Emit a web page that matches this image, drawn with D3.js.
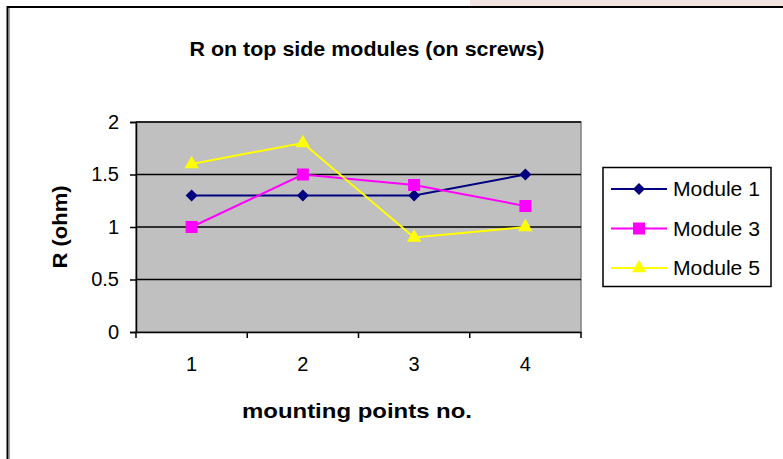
<!DOCTYPE html>
<html><head><meta charset="utf-8">
<script src="https://cdn.jsdelivr.net/npm/d3@7"></script>
<style>body{margin:0;background:#fff}svg{display:block}text{font-family:"Liberation Sans",Arial,sans-serif}</style>
</head><body>
<svg id="c" width="783" height="459"></svg>
<script>
const categories = ["1","2","3","4"];
const module1 = [1.3, 1.3, 1.3, 1.5];
const module3 = [1.0, 1.5, 1.4, 1.2];
const module5 = [1.6, 1.8, 0.9, 1.0];
const seriesNames = ["Module 1","Module 3","Module 5"];
const yTicks = [0, 0.5, 1, 1.5, 2];
const titleText = "R on top side modules (on screws)";
const xTitle = "mounting points no.";
const yTitle = "R (ohm)";

const diamond = {draw(ctx, size){const r=Math.sqrt(size/2);ctx.moveTo(0,-r);ctx.lineTo(r,0);ctx.lineTo(0,r);ctx.lineTo(-r,0);ctx.closePath();}};
const series = [
  {name: seriesNames[0], values: module1, color: "#000080", sym: diamond, size: 72},
  {name: seriesNames[1], values: module3, color: "#FF00FF", sym: d3.symbolSquare, size: 144},
  {name: seriesNames[2], values: module5, color: "#FFFF00", sym: d3.symbolTriangle, size: 90}
];

const svg = d3.select("#c");
// faint cropped watermark strip at top
svg.append("rect").attr("x",470).attr("y",0).attr("width",313).attr("height",6).attr("fill","#f3e4e4");
// outer frame
svg.append("rect").attr("x",7.5).attr("y",7).attr("width",800).attr("height",500)
  .attr("fill","#fff").attr("stroke","#000").attr("stroke-width",2);
svg.append("line").attr("x1",9.5).attr("x2",9.5).attr("y1",8).attr("y2",459).attr("stroke","#a0a0a0").attr("stroke-width",1);

const L = 136, R = 581, T = 122, B = 332;
const x = d3.scaleBand().domain(categories).range([L, R]);
const y = d3.scaleLinear().domain([0, 2]).range([B, T]);

svg.append("rect").attr("x",L).attr("y",T).attr("width",R-L).attr("height",B-T)
  .attr("fill","#C0C0C0").attr("stroke","#808080").attr("stroke-width",1.5);

// gridlines
svg.append("g").selectAll("line").data(yTicks.filter(d=>d>0)).join("line")
  .attr("x1",L).attr("x2",R).attr("y1",d=>y(d)).attr("y2",d=>y(d))
  .attr("stroke","#000").attr("stroke-width",1.5);

// y axis
const ya = svg.append("g").attr("transform",`translate(${L},0)`)
  .call(d3.axisLeft(y).tickValues(yTicks).tickSize(6).tickPadding(11).tickFormat(d=>String(d)));
ya.select(".domain").attr("stroke","#000").attr("stroke-width",1.5);
ya.selectAll(".tick line").attr("stroke","#000").attr("stroke-width",1.5);
ya.selectAll(".tick text").attr("font-size",20).attr("fill","#000").attr("font-family","Liberation Sans, Arial, sans-serif");

// x axis
const xa = svg.append("g").attr("transform",`translate(0,${B})`)
  .call(d3.axisBottom(x).tickSize(0).tickPadding(25));
xa.select(".domain").attr("stroke","#000").attr("stroke-width",1.5);
xa.selectAll(".tick text").attr("font-size",20).attr("fill","#000").attr("font-family","Liberation Sans, Arial, sans-serif");
// category boundary ticks
const bounds = categories.map(c=>x(c)).concat([R]);
svg.append("g").selectAll("line").data(bounds).join("line")
  .attr("x1",d=>d).attr("x2",d=>d).attr("y1",B).attr("y2",B+6)
  .attr("stroke","#000").attr("stroke-width",1.5);

// lines & markers
const cx = c => x(c) + x.bandwidth()/2;
series.forEach(s=>{
  const pts = s.values.map((v,i)=>[cx(categories[i]), y(v)]);
  svg.append("path").attr("d", d3.line()(pts)).attr("fill","none")
    .attr("stroke", s.color).attr("stroke-width",2);
  svg.append("g").selectAll("path").data(pts).join("path")
    .attr("transform",d=>`translate(${d[0]},${d[1]})`)
    .attr("d", d3.symbol().type(s.sym).size(s.size)).attr("fill", s.color);
});

// titles
svg.append("text").attr("x",367).attr("y",56).attr("text-anchor","middle")
  .attr("font-size",21).attr("font-weight","bold")
  .attr("textLength",355).attr("lengthAdjust","spacingAndGlyphs").text(titleText);
svg.append("text").attr("x",357).attr("y",418).attr("text-anchor","middle")
  .attr("font-size",21).attr("font-weight","bold")
  .attr("textLength",230).attr("lengthAdjust","spacingAndGlyphs").text(xTitle);
svg.append("text").attr("transform","translate(67,227) rotate(-90)").attr("text-anchor","middle")
  .attr("font-size",20).attr("font-weight","bold")
  .attr("textLength",83).attr("lengthAdjust","spacingAndGlyphs").text(yTitle);

// legend
const lg = svg.append("g");
lg.append("rect").attr("x",603).attr("y",167.5).attr("width",168).attr("height",119)
  .attr("fill","#fff").attr("stroke","#000").attr("stroke-width",1.5);
series.forEach((s,i)=>{
  const yy = 189 + i*39.5;
  lg.append("line").attr("x1",611).attr("x2",667).attr("y1",yy).attr("y2",yy)
    .attr("stroke",s.color).attr("stroke-width",2);
  lg.append("path").attr("transform",`translate(639,${yy})`)
    .attr("d", d3.symbol().type(s.sym).size(s.size)).attr("fill",s.color);
  lg.append("text").attr("x",673).attr("y",yy+7).attr("font-size",20)
    .attr("textLength",87).attr("lengthAdjust","spacingAndGlyphs").text(s.name);
});
</script>
</body></html>
